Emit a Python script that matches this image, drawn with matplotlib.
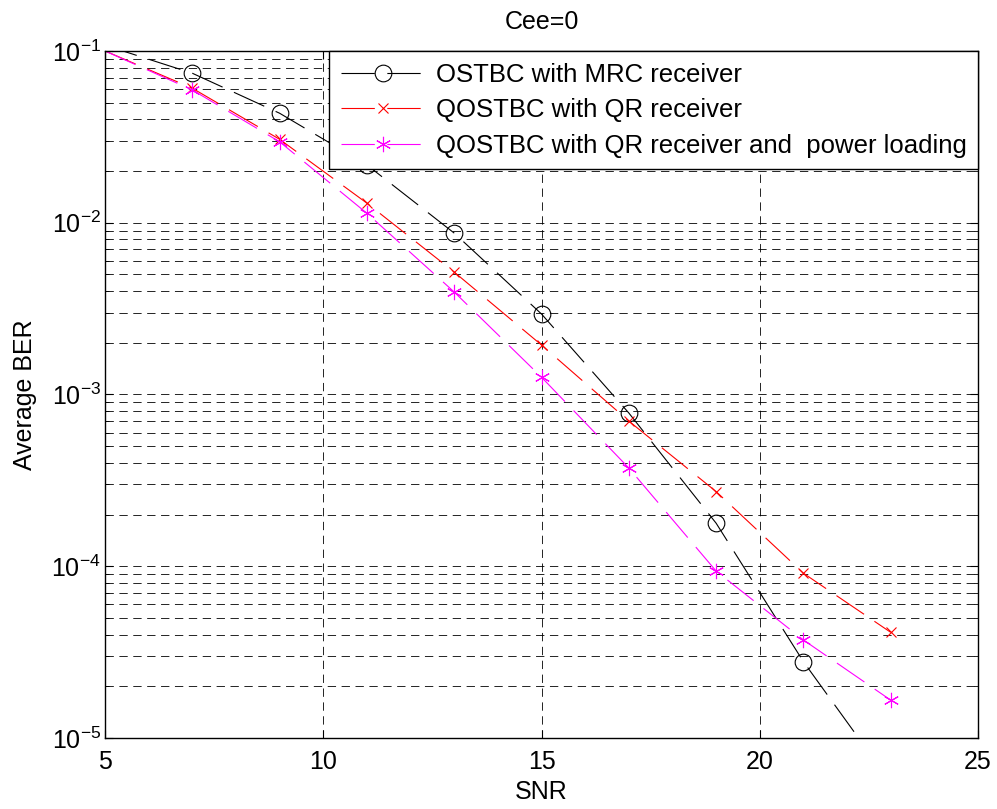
import matplotlib
matplotlib.use("Agg")
import matplotlib.pyplot as plt
from matplotlib.ticker import LogLocator, NullFormatter

plt.rcParams['font.family'] = ['Liberation Sans', 'DejaVu Sans']
plt.rcParams['mathtext.fontset'] = 'custom'
plt.rcParams['mathtext.rm'] = 'Liberation Sans'
plt.rcParams['lines.scale_dashes'] = False

# SNR points (dB)
snr = [5, 7, 9, 11, 13, 15, 17, 19, 21, 23]

# average BER
ber_ostbc_mrc = [0.108, 0.0742, 0.0434, 0.0217, 0.0087, 0.00294, 7.8e-4, 1.78e-4, 2.78e-5, 5.5e-6]
ber_qostbc_qr = [0.1, 0.0607, 0.0306, 0.013, 0.00516, 0.00194, 7.0e-4, 2.72e-4, 9.1e-5, 4.12e-5]
ber_qostbc_qr_pl = [0.1, 0.0593, 0.0296, 0.01135, 0.00395, 0.00126, 3.73e-4, 9.37e-5, 3.72e-5, 1.66e-5]

labels = ['OSTBC with MRC receiver',
          'QOSTBC with QR receiver',
          'QOSTBC with QR receiver and  power loading']

fig = plt.figure(figsize=(9.97, 8.09), dpi=100)
ax = fig.add_axes([0.1053, 0.0878, 0.8757, 0.8492])

dash = (0, (24, 9))
ax.semilogy(snr, ber_ostbc_mrc, color='black', lw=0.8, linestyle=dash,
            marker='o', markersize=12, markerfacecolor='none', markeredgewidth=0.8,
            markevery=slice(1, None), label=labels[0])
ax.semilogy(snr, ber_qostbc_qr, color='red', lw=0.8, linestyle=dash,
            marker='x', markersize=7, markeredgewidth=0.8,
            markevery=slice(1, None), label=labels[1])
ax.semilogy(snr, ber_qostbc_qr_pl, color='#ff00ff', lw=0.8, linestyle=dash,
            marker=(6, 2, 0), markersize=11, markeredgewidth=0.8,
            markevery=slice(1, None), label=labels[2])

ax.set_xlim(5, 25)
ax.set_ylim(1e-5, 1e-1)
ax.set_xticks([5, 10, 15, 20, 25])
ax.yaxis.set_major_locator(LogLocator(base=10, numticks=10))
ax.yaxis.set_minor_locator(LogLocator(base=10, subs=range(2, 10), numticks=20))
ax.yaxis.set_minor_formatter(NullFormatter())

ax.grid(True, which='major', axis='both', color='black', linestyle=(0, (6, 4)), lw=0.6)
ax.grid(True, which='minor', axis='y', color='black', linestyle=(0, (6, 4)), lw=0.6)

ax.tick_params(which='both', direction='in', top=True, right=True, labelsize=18)
ax.tick_params(axis='x', pad=9)
ax.tick_params(axis='y', pad=3)
ax.tick_params(which='major', length=6)
ax.tick_params(which='minor', length=3)
for s in ax.spines.values():
    s.set_linewidth(1.0)

ax.set_title('Cee=0', fontsize=18, pad=16)
ax.set_xlabel('SNR', fontsize=18, labelpad=4)
ax.set_ylabel('Average BER', fontsize=18, labelpad=10)

leg = ax.legend(loc='upper right', borderaxespad=0, fontsize=18.5,
                fancybox=False, framealpha=1, edgecolor='black',
                handlelength=3.3, handletextpad=0.4, labelspacing=0.45,
                borderpad=0.45)
leg.get_frame().set_linewidth(1.0)

fig.savefig('out.png', dpi=100)
